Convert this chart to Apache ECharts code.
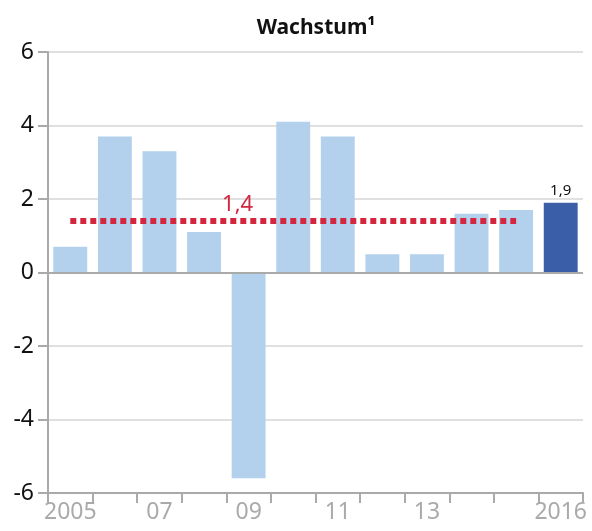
<!DOCTYPE html>
<html>
<head>
<meta charset="utf-8">
<script src="https://cdn.jsdelivr.net/npm/echarts@6/dist/echarts.min.js"></script>
<style>
  html, body { margin: 0; padding: 0; background: #fff; }
  #chart { width: 592px; height: 531px; }
</style>
</head>
<body>
<div id="chart"></div>
<script>
// data
var years = ['2005', '2006', '2007', '2008', '2009', '2010', '2011', '2012', '2013', '2014', '2015', '2016'];
var growth = [0.7, 3.7, 3.3, 1.1, -5.6, 4.1, 3.7, 0.5, 0.5, 1.6, 1.7, 1.9];
var average = [1.4, 1.4, 1.4, 1.4, 1.4, 1.4, 1.4, 1.4, 1.4, 1.4, 1.4, null];
var xTickLabels = { '2005': '2005', '2007': '07', '2009': '09', '2011': '11', '2013': '13', '2016': '2016' };
var yTicks = [-6, -4, -2, 0, 2, 4, 6];

var lightBlue = '#b3d1ed';
var darkBlue = '#3a5ea8';
var red = '#d4263f';
var font = 'Noto Sans';

var myChart = echarts.init(document.getElementById('chart'));

var barData = growth.map(function (v, i) {
  var last = i === growth.length - 1;
  return {
    value: v,
    itemStyle: { color: last ? darkBlue : lightBlue },
    label: {
      show: last,
      position: 'top',
      distance: 4,
      formatter: function (p) { return String(p.value).replace('.', ','); },
      color: '#111',
      fontSize: 15,
      fontFamily: font
    }
  };
});

var option = {
  animation: false,
  title: {
    text: 'Wachstum¹',
    left: 311,
    textAlign: 'center',
    top: 13,
    textStyle: { fontFamily: font, fontSize: 21, fontWeight: 'bold', color: '#111' }
  },
  grid: { left: 48, right: 9, top: 52, bottom: 38 },
  xAxis: {
    type: 'category',
    data: years,
    axisLine: { onZero: false, lineStyle: { color: '#aaa', width: 2 } },
    axisTick: { show: true, interval: 0, length: 10, lineStyle: { color: '#aaa', width: 2 } },
    axisLabel: {
      interval: function (idx, val) { return xTickLabels[val] !== undefined; },
      formatter: function (val) { return xTickLabels[val]; },
      color: '#aaa',
      fontSize: 23,
      fontFamily: font,
      margin: 8
    }
  },
  yAxis: {
    type: 'value',
    min: yTicks[0],
    max: yTicks[yTicks.length - 1],
    interval: 2,
    axisLine: { show: true, lineStyle: { color: '#aaa', width: 2 } },
    axisTick: { show: true, length: 10, lineStyle: { color: '#aaa', width: 2 } },
    axisLabel: { color: '#111', fontSize: 23, fontFamily: font, margin: 14 },
    splitLine: { lineStyle: { color: '#e0e0e0', width: 2 } }
  },
  series: [
    {
      type: 'bar',
      data: barData,
      barCategoryGap: '24%',
      markLine: {
        silent: true,
        symbol: 'none',
        label: { show: false },
        lineStyle: { color: '#aaa', width: 2, type: 'solid' },
        data: [{ yAxis: 0 }]
      },
      z: 2
    },
    {
      type: 'line',
      data: average,
      symbol: 'none',
      lineStyle: { color: red, width: 6, type: [6, 4] },
      markPoint: {
        symbol: 'rect',
        symbolSize: 0,
        data: [{ coord: ['2009', 1.4], value: 1.4 }],
        label: {
          show: true,
          formatter: '1,4',
          color: red,
          fontSize: 22,
          fontFamily: font,
          offset: [-11, -16]
        }
      },
      z: 3
    }
  ]
};

myChart.setOption(option);
</script>
</body>
</html>
